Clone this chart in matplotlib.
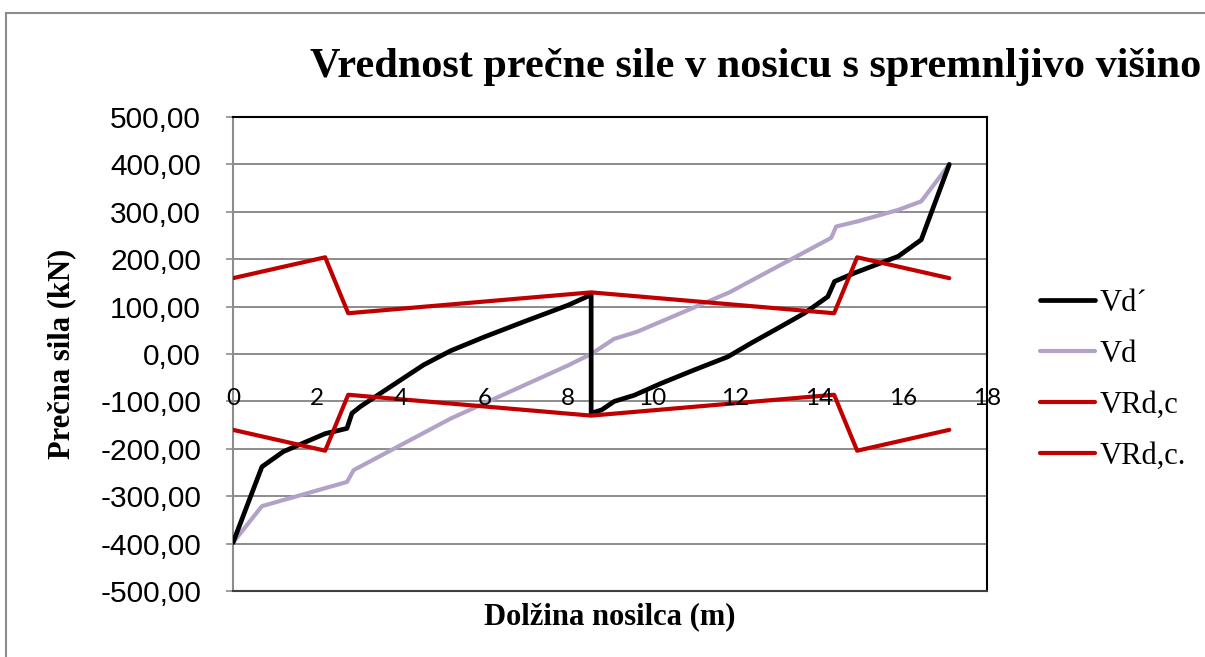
import matplotlib
matplotlib.use("Agg")
import matplotlib.pyplot as plt
from matplotlib.patches import Rectangle
from matplotlib.transforms import blended_transform_factory

# Shear force along the beam (x in m, V in kN)
x_vd_prime = [0.0, 0.69, 1.2, 2.2, 2.72, 2.84, 3.04, 3.52, 4.0, 4.55, 5.2, 6.0, 7.0, 8.0, 8.55,
              8.55, 8.8, 9.1, 9.58, 10.22, 11.0, 11.81, 12.37, 13.0, 13.64, 14.2, 14.36, 14.84,
              15.88, 16.43, 17.1]
vd_prime = [-398, -238, -206, -168, -157, -125, -111, -83, -55, -23, 7, 36, 70, 103, 125,
            -125, -118, -100, -87, -62, -34, -6, 23, 54, 86, 121, 153, 171,
            206, 241, 400]

x_vd = [0.0, 0.69, 2.72, 2.88, 5.2, 8.0, 8.55, 9.1, 9.65, 11.85, 14.28, 14.4, 14.92, 15.88, 16.43, 17.1]
vd = [-398, -321, -270, -245, -136, -24, 0, 32, 47, 130, 245, 269, 280, 304, 322, 400]

x_vrdc = [0.0, 2.2, 2.75, 8.55, 14.35, 14.9, 17.1]
vrdc_pos = [160, 204, 86, 130, 86, 204, 160]
vrdc_neg = [-160, -204, -86, -130, -86, -204, -160]

x_ticks = [0, 2, 4, 6, 8, 10, 12, 14, 16, 18]
y_ticks = [-500, -400, -300, -200, -100, 0, 100, 200, 300, 400, 500]

W, H = 1205, 657
fig = plt.figure(figsize=(W / 100, H / 100), dpi=100)
fig.patch.set_facecolor("white")

# chart frame
fig.patches.append(Rectangle((6 / W, -0.1), 2.0, 1 - 13 / H + 0.1, transform=fig.transFigure,
                             fill=False, edgecolor="#8c8c8c", linewidth=1.5))

left, right, top, bottom = 233 / W, 987 / W, 1 - 117 / H, 1 - 591 / H
ax = fig.add_axes([left, bottom, right - left, top - bottom])

ax.set_xlim(0, 18)
ax.set_ylim(-500, 500)

line_kw = dict(solid_joinstyle="round", solid_capstyle="round")
l1, = ax.plot(x_vd_prime, vd_prime, color="black", lw=3.4, label="Vd\u00b4", zorder=4, **line_kw)
l2, = ax.plot(x_vd, vd, color="#B3A2C7", lw=3.0, label="Vd", zorder=3, **line_kw)
l3, = ax.plot(x_vrdc, vrdc_pos, color="#C00000", lw=3.0, label="VRd,c", zorder=5, **line_kw)
l4, = ax.plot(x_vrdc, vrdc_neg, color="#C00000", lw=3.0, label="VRd,c.", zorder=5, **line_kw)

ax.set_yticks(y_ticks)
ax.set_yticklabels([f"{v:.2f}".replace(".", ",") for v in y_ticks],
                   fontfamily="Liberation Sans", fontsize=21.5)
ax.tick_params(axis="y", length=5, width=1.2, color="#8c8c8c", pad=18)
ax.set_xticks(x_ticks)
ax.tick_params(axis="x", length=0, labelbottom=False)
ax.grid(axis="y", color="#8c8c8c", lw=1.4)
ax.grid(axis="x", visible=False)
ax.set_axisbelow(True)

# horizontal axis labels sit just below the zero line
tr = blended_transform_factory(ax.transData, ax.transData)
for t in x_ticks:
    ax.text(t, -93, str(t), transform=tr, ha="center", va="center",
            fontfamily="Lato", fontsize=17.5, color="black", zorder=6)

for side, col in (("top", "black"), ("right", "black"), ("left", "#8c8c8c"), ("bottom", "#404040")):
    ax.spines[side].set_color(col)
    ax.spines[side].set_linewidth(1.5)

ax.set_xlabel("Dolžina nosilca (m)", fontfamily="Liberation Serif", fontweight="bold",
              fontsize=22, labelpad=8)
ax.set_ylabel("Prečna sila (kN)", fontfamily="Liberation Serif", fontweight="bold",
              fontsize=22)
ax.yaxis.set_label_coords((76 - 233) / (987 - 233), 0.5)

fig.text(310 / W, 1 - 77 / H, "Vrednost prečne sile v nosicu s spremnljivo višino",
         fontfamily="Liberation Serif", fontweight="bold", fontsize=30.4, ha="left", va="baseline")

leg = ax.legend(handles=[l1, l2, l3, l4], loc="upper left",
                bbox_to_anchor=(1040 / W, 1 - 289 / H), bbox_transform=fig.transFigure,
                frameon=False, prop={"family": "Liberation Serif", "size": 22},
                handlelength=1.8, handletextpad=0.16, labelspacing=0.72, borderpad=0,
                borderaxespad=0)

fig.savefig("out.png", dpi=100)
